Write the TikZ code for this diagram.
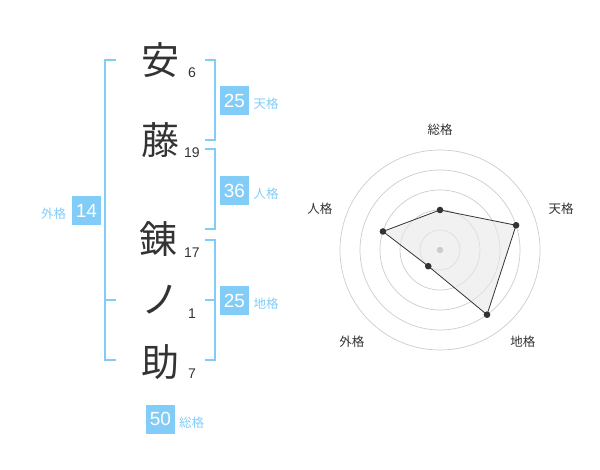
\documentclass[tikz,border=0pt]{standalone}
\usepackage{fontspec}
\setmainfont{Liberation Sans}
\newfontfamily\jpfont{Noto Sans CJK JP}
\definecolor{kakublue}{HTML}{82CDF8}
\definecolor{inkgray}{HTML}{333333}
\definecolor{gridgray}{HTML}{CCCCCC}
\definecolor{areagray}{HTML}{E8E8E8}
\begin{document}
\begin{tikzpicture}[x=1pt,y=-1pt]
\useasboundingbox (0,0) rectangle (600,470);
\tikzstyle{kanji}=[inkgray,inner sep=0pt,font=\jpfont\fontsize{38}{38}\selectfont]
\tikzstyle{stroke}=[inkgray,inner sep=0pt,font=\fontsize{14}{14}\selectfont]
\tikzstyle{kakubox}=[fill=kakublue,text=white,minimum size=29pt,inner sep=0pt,font=\fontsize{19}{19}\selectfont]
\tikzstyle{kakulabel}=[kakublue,inner sep=0pt,font=\jpfont\fontsize{12.5}{12.5}\selectfont]
\tikzstyle{axislabel}=[inkgray,inner sep=0pt,font=\jpfont\fontsize{12.5}{12.5}\selectfont]
\tikzstyle{bracket}=[kakublue,line width=2pt]
\node[kanji] (c1) at (160,60.5) {安};
\node[kanji] (c2) at (160,140.5) {藤};
\node[kanji] (c3) at (158.5,239) {錬};
\node[kanji] (c4) at (160,300) {ノ};
\node[kanji] (c5) at (160,362) {助};
\node[stroke] (n1) at (192,73) {6};
\node[stroke] (n2) at (192,153) {19};
\node[stroke] (n3) at (192,252.5) {17};
\node[stroke] (n4) at (192,313.5) {1};
\node[stroke] (n5) at (192,373.5) {7};
\draw[bracket] (205,60) -- (215,60) -- (215,140) -- (205,140);
\draw[bracket] (205,149) -- (215,149) -- (215,229) -- (205,229);
\draw[bracket] (205,240) -- (215,240) -- (215,360) -- (205,360);
\draw[bracket] (205,300) -- (215,300);
\draw[bracket] (116,60) -- (105,60) -- (105,360) -- (116,360);
\draw[bracket] (105,300) -- (116,300);
\node[kakubox] (ten) at (234.5,100.5) {25};
\node[kakulabel] (tenl) at (266,104) {天格};
\node[kakubox] (jin) at (234.5,190.5) {36};
\node[kakulabel] (jinl) at (266,194) {人格};
\node[kakubox] (chi) at (234.5,300.5) {25};
\node[kakulabel] (chil) at (266,304) {地格};
\node[kakubox] (gai) at (86.5,210.5) {14};
\node[kakulabel] (gail) at (53.5,214) {外格};
\node[kakubox] (sou) at (160.5,419) {50};
\node[kakulabel] (soul) at (191.5,423) {総格};
\begin{scope}[shift={(440,250)},yscale=-1]
\draw[gridgray,line width=0.7pt] (0,0) circle (20);
\draw[gridgray,line width=0.7pt] (0,0) circle (40);
\draw[gridgray,line width=0.7pt] (0,0) circle (60);
\draw[gridgray,line width=0.7pt] (0,0) circle (80);
\draw[gridgray,line width=0.7pt] (0,0) circle (100);
\coordinate (p1) at (90:40);
\coordinate (p2) at (18:80);
\coordinate (p3) at (-54:80);
\coordinate (p4) at (-126:20);
\coordinate (p5) at (162:60);
\fill[areagray,fill opacity=0.6] (p1) -- (p2) -- (p3) -- (p4) -- (p5) -- cycle;
\draw[inkgray,line width=0.8pt] (p1) -- (p2) -- (p3) -- (p4) -- (p5) -- cycle;
\fill[gridgray] (0,0) circle (3.2);
\fill[inkgray] (p1) circle (3.3);
\fill[inkgray] (p2) circle (3.3);
\fill[inkgray] (p3) circle (3.3);
\fill[inkgray] (p4) circle (3.3);
\fill[inkgray] (p5) circle (3.3);
\node[axislabel] (a1) at (90:120) {総格};
\node[axislabel] (a2) at (19:128) {天格};
\node[axislabel] (a3) at (-48:124) {地格};
\node[axislabel] (a4) at (-134:127) {外格};
\node[axislabel] (a5) at (161:127) {人格};
\end{scope}
\end{tikzpicture}
\end{document}
